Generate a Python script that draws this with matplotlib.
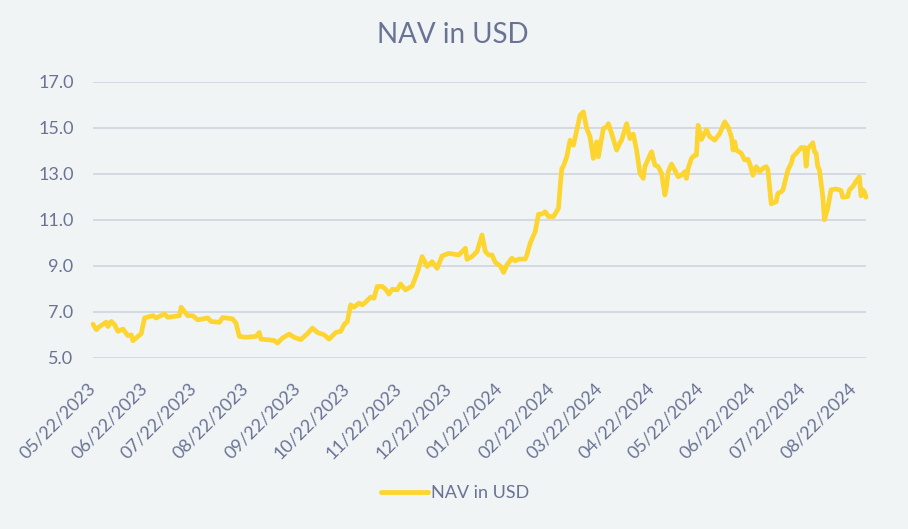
import matplotlib
matplotlib.use("Agg")
import matplotlib.pyplot as plt
import pandas as pd
from matplotlib import font_manager

dates = [
    "2023-05-22", "2023-05-24", "2023-05-26", "2023-05-30", "2023-05-31", "2023-06-02",
    "2023-06-04", "2023-06-06", "2023-06-09", "2023-06-12", "2023-06-14", "2023-06-15",
    "2023-06-20", "2023-06-22", "2023-06-27", "2023-06-29", "2023-07-04", "2023-07-06",
    "2023-07-13", "2023-07-14", "2023-07-18", "2023-07-21", "2023-07-24", "2023-07-30",
    "2023-08-01", "2023-08-06", "2023-08-08", "2023-08-14", "2023-08-16", "2023-08-18",
    "2023-08-22", "2023-08-28", "2023-08-30", "2023-08-31", "2023-09-05", "2023-09-08",
    "2023-09-10", "2023-09-13", "2023-09-17", "2023-09-20", "2023-09-24", "2023-09-28",
    "2023-10-01", "2023-10-04", "2023-10-08", "2023-10-11", "2023-10-15", "2023-10-18",
    "2023-10-20", "2023-10-22", "2023-10-24", "2023-10-26", "2023-10-29", "2023-10-31",
    "2023-11-02", "2023-11-05", "2023-11-07", "2023-11-09", "2023-11-12", "2023-11-14",
    "2023-11-16", "2023-11-18", "2023-11-21", "2023-11-23", "2023-11-26", "2023-11-30",
    "2023-12-03", "2023-12-06", "2023-12-09", "2023-12-12", "2023-12-15", "2023-12-18",
    "2023-12-22", "2023-12-28", "2024-01-01", "2024-01-02", "2024-01-05", "2024-01-08",
    "2024-01-11", "2024-01-13", "2024-01-15", "2024-01-17", "2024-01-19", "2024-01-22",
    "2024-01-24", "2024-01-26", "2024-01-29", "2024-01-31", "2024-02-02", "2024-02-06",
    "2024-02-07", "2024-02-09", "2024-02-12", "2024-02-14", "2024-02-16", "2024-02-18",
    "2024-02-20", "2024-02-23", "2024-02-26", "2024-02-27", "2024-02-28", "2024-02-29",
    "2024-03-02", "2024-03-04", "2024-03-06", "2024-03-08", "2024-03-10", "2024-03-12",
    "2024-03-14", "2024-03-16", "2024-03-18", "2024-03-20", "2024-03-21", "2024-03-24",
    "2024-03-26", "2024-03-27", "2024-03-29", "2024-04-01", "2024-04-03", "2024-04-04",
    "2024-04-07", "2024-04-09", "2024-04-11", "2024-04-13", "2024-04-15", "2024-04-17",
    "2024-04-18", "2024-04-21", "2024-04-22", "2024-04-24", "2024-04-26", "2024-04-28",
    "2024-04-30", "2024-05-01", "2024-05-02", "2024-05-04", "2024-05-06", "2024-05-08",
    "2024-05-10", "2024-05-12", "2024-05-13", "2024-05-14", "2024-05-16", "2024-05-18",
    "2024-05-19", "2024-05-20", "2024-05-22", "2024-05-25", "2024-05-27", "2024-05-30",
    "2024-06-02", "2024-06-05", "2024-06-07", "2024-06-09", "2024-06-10", "2024-06-11",
    "2024-06-12", "2024-06-15", "2024-06-17", "2024-06-19", "2024-06-20", "2024-06-22",
    "2024-06-24", "2024-06-26", "2024-06-28", "2024-06-30", "2024-07-01", "2024-07-03",
    "2024-07-06", "2024-07-07", "2024-07-09", "2024-07-10", "2024-07-13", "2024-07-15",
    "2024-07-16", "2024-07-18", "2024-07-21", "2024-07-23", "2024-07-24", "2024-07-25",
    "2024-07-27", "2024-07-28", "2024-07-29", "2024-07-30", "2024-07-31", "2024-08-01",
    "2024-08-03", "2024-08-04", "2024-08-06", "2024-08-08", "2024-08-11", "2024-08-14",
    "2024-08-15", "2024-08-18", "2024-08-19", "2024-08-21", "2024-08-23", "2024-08-25",
    "2024-08-26", "2024-08-27", "2024-08-28", "2024-08-29",
]

nav_usd = [
    6.47, 6.23, 6.37, 6.56, 6.37, 6.59,
    6.45, 6.16, 6.26, 5.97, 6.01, 5.75,
    6.06, 6.74, 6.84, 6.74, 6.92, 6.77,
    6.84, 7.21, 6.84, 6.84, 6.66, 6.74,
    6.59, 6.55, 6.76, 6.70, 6.52, 5.94,
    5.90, 5.94, 6.11, 5.82, 5.79, 5.76,
    5.65, 5.87, 6.04, 5.90, 5.80, 6.06,
    6.30, 6.11, 6.01, 5.82, 6.11, 6.16,
    6.45, 6.59, 7.31, 7.21, 7.39, 7.31,
    7.43, 7.65, 7.60, 8.11, 8.11, 7.99,
    7.78, 7.99, 7.96, 8.22, 7.96, 8.13,
    8.69, 9.41, 8.98, 9.19, 8.90, 9.44,
    9.55, 9.48, 9.77, 9.29, 9.41, 9.63,
    10.35, 9.63, 9.48, 9.48, 9.16, 9.00,
    8.72, 9.05, 9.34, 9.22, 9.30, 9.30,
    9.48, 9.99, 10.50, 11.25, 11.26, 11.36,
    11.15, 11.15, 11.51, 12.45, 13.24, 13.34,
    13.75, 14.47, 14.25, 14.90, 15.56, 15.70,
    14.98, 14.62, 13.68, 14.40, 13.75, 14.98,
    15.05, 15.19, 14.76, 14.04, 14.36, 14.47,
    15.19, 14.54, 14.73, 14.04, 13.03, 12.81,
    13.32, 13.82, 13.97, 13.39, 13.32, 13.03,
    12.09, 12.45, 13.10, 13.43, 13.17, 12.88,
    12.95, 13.10, 12.81, 13.24, 13.68, 13.82,
    13.82, 15.12, 14.50, 14.93, 14.62, 14.47,
    14.76, 15.27, 15.05, 14.62, 14.04, 14.40,
    14.04, 13.90, 13.61, 13.64, 13.46, 12.95,
    13.32, 13.10, 13.25, 13.32, 13.17, 11.70,
    11.80, 12.16, 12.23, 12.30, 13.17, 13.46,
    13.75, 13.90, 14.15, 14.15, 13.34, 14.11,
    14.26, 14.36, 13.97, 13.90, 13.32, 13.17,
    12.02, 11.01, 11.52, 12.31, 12.35, 12.28,
    11.99, 12.02, 12.31, 12.45, 12.68, 12.88,
    12.05, 12.31, 12.23, 11.99,
]

y_ticks = [5.0, 7.0, 9.0, 11.0, 13.0, 15.0, 17.0]
x_tick_dates = ["2023-05-22", "2023-06-22", "2023-07-22", "2023-08-22", "2023-09-22",
                "2023-10-22", "2023-11-22", "2023-12-22", "2024-01-22", "2024-02-22",
                "2024-03-22", "2024-04-22", "2024-05-22", "2024-06-22", "2024-07-22",
                "2024-08-22"]
series_name = "NAV in USD"
title = "NAV in USD"

names = {f.name for f in font_manager.fontManager.ttflist}
fam = "Lato" if "Lato" in names else "DejaVu Sans"
plt.rcParams['font.family'] = [fam, 'DejaVu Sans']

bg = "#f0f4f5"
txt = "#6a7394"
line_color = "#fdd531"

x = pd.to_datetime(dates)
fig = plt.figure(figsize=(9.08, 5.29), dpi=100, facecolor=bg)
ax = fig.add_axes([93/908, 1 - 358/529, (866-93)/908, (358-82)/529])
ax.set_facecolor(bg)
ax.plot(x, nav_usd, color=line_color, lw=3.4, solid_joinstyle='round',
        solid_capstyle='round', label=series_name, clip_on=False, zorder=3)

ax.set_ylim(5, 17)
ax.set_xlim(x[0], x[-1])
ax.set_yticks(y_ticks)
ax.set_yticklabels([f"{v:.1f}" for v in y_ticks])
ax.grid(axis='y', color='#d3d7df', lw=1.3, zorder=0)
ax.grid(axis='x', visible=False)
for s in ax.spines.values():
    s.set_visible(False)

xt = pd.to_datetime(x_tick_dates)
ax.set_xticks(xt)
ax.set_xticklabels([d.strftime("%m/%d/%Y") for d in xt], rotation=45, ha='right',
                   va='center', rotation_mode='anchor')
ax.tick_params(axis='x', length=0, pad=20, labelsize=13, labelcolor=txt)
ax.tick_params(axis='y', length=0, pad=14, labelsize=13, labelcolor=txt)

fig.text(453/908, 1 - 35/529, title, ha='center', va='center', fontsize=20,
         color=txt)

leg = fig.legend(loc='center', bbox_to_anchor=(455/908, 1 - 493/529), frameon=False,
                 handlelength=2.6, handletextpad=0.15, fontsize=13)
for t in leg.get_texts():
    t.set_color(txt)
for h in leg.get_lines():
    h.set_linewidth(3.5)

fig.savefig("out.png", dpi=100, facecolor=bg)
